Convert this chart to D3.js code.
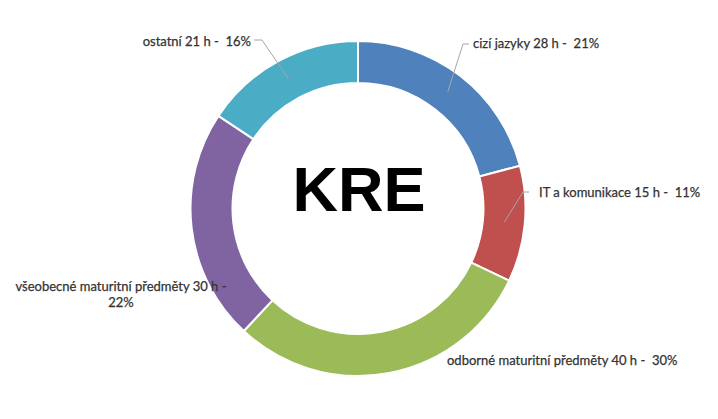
<!DOCTYPE html>
<html>
<head>
<meta charset="utf-8">
<script src="https://cdn.jsdelivr.net/npm/d3@7"></script>
<style>
  html, body { margin: 0; padding: 0; background: #fff; }
  svg text { white-space: pre; }
</style>
</head>
<body>
<svg id="chart" width="718" height="419"></svg>
<script>
// ---- data ----
const categories = ["cizí jazyky", "IT a komunikace", "odborné maturitní předměty", "všeobecné maturitní předměty", "ostatní"];
const hours = [28, 15, 40, 30, 21];
const percents = [21, 11, 30, 22, 16];
const centerTitle = "KRE";

// ---- layout / style ----
const W = 718, H = 419;
const cx = 358, cy = 208.5;
const outerR = 167.5, innerR = 125.5;
const colors = ["#4F81BD", "#C0504D", "#9BBB59", "#8064A2", "#4BACC6"];
// label placement relative to the chart centre
const labelLayout = [
  { dx: 115, dy: -160.5, anchor: "start", elbow: [105, -164.5], elbowEnd: [111, -164.5], lines: 1 },
  { dx: 181, dy: -11.5, anchor: "start", elbow: [165, -16.5], elbowEnd: [171, -16.5], lines: 1 },
  { dx: 89, dy: 156.5, anchor: "start", elbow: null, lines: 1 },
  { dx: -237, dy: 82.5, anchor: "middle", elbow: null, lines: 2 },
  { dx: -107, dy: -162.5, anchor: "end", elbow: [-96, -168.5], elbowEnd: [-104, -168.5], lines: 1 }
];

const svg = d3.select("#chart");
const g = svg.append("g").attr("transform", `translate(${cx},${cy})`);

const pie = d3.pie().sort(null).value(d => d)(hours);
const arc = d3.arc().innerRadius(innerR).outerRadius(outerR);
const midArc = d3.arc().innerRadius(146).outerRadius(148);

g.selectAll("path.slice")
  .data(pie)
  .join("path")
  .attr("class", "slice")
  .attr("d", arc)
  .attr("fill", (d, i) => colors[i])
  .attr("stroke", "#fff")
  .attr("stroke-width", 2);

// leader lines
pie.forEach((d, i) => {
  const L = labelLayout[i];
  if (!L.elbow) return;
  const p = midArc.centroid(d);
  g.append("polyline")
    .attr("points", [p, L.elbow, L.elbowEnd].map(q => q.join(",")).join(" "))
    .attr("fill", "none")
    .attr("stroke", "#A6A6A6")
    .attr("stroke-width", 1);
});

// labels
const fontFamily = "Lato, 'Open Sans', sans-serif";
pie.forEach((d, i) => {
  const L = labelLayout[i];
  const t = g.append("text")
    .attr("x", L.dx)
    .attr("y", L.dy)
    .attr("text-anchor", L.anchor)
    .attr("font-family", fontFamily)
    .attr("font-size", 13)
    .attr("fill", "#333333")
    .attr("stroke", "#333333")
    .attr("stroke-width", 0.25);
  if (L.lines === 2) {
    t.append("tspan").attr("x", L.dx).attr("dy", 0)
      .text(`${categories[i]} ${hours[i]} h -`);
    t.append("tspan").attr("x", L.dx).attr("dy", 15.5)
      .text(`${percents[i]}%`);
  } else {
    t.text(`${categories[i]} ${hours[i]} h -  ${percents[i]}%`);
  }
});

// centre title
g.append("text")
  .attr("x", 1)
  .attr("y", 2.5)
  .attr("text-anchor", "middle")
  .attr("font-family", "'Liberation Sans', Arial, sans-serif")
  .attr("font-weight", "bold")
  .attr("font-size", 63)
  .attr("fill", "#000")
  .text(centerTitle);
</script>
</body>
</html>
